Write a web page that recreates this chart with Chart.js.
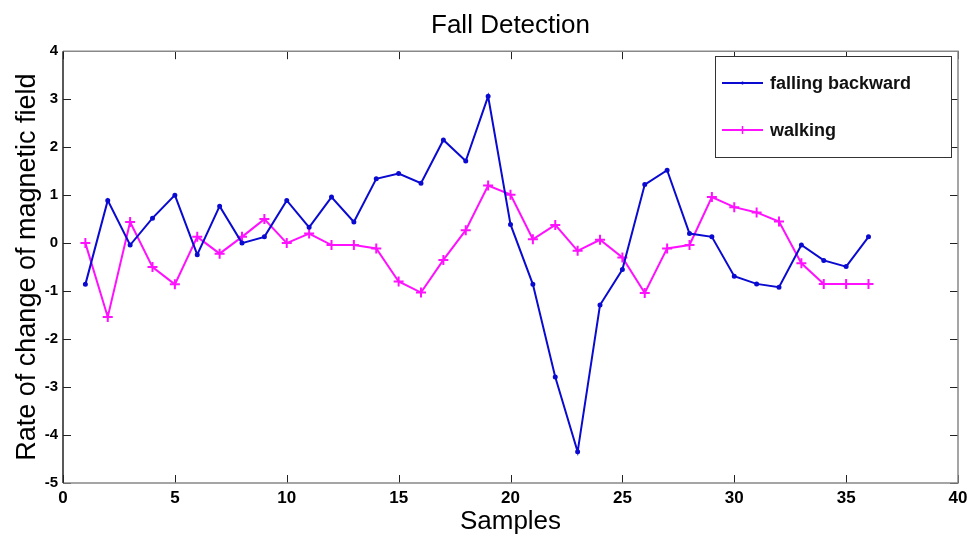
<!DOCTYPE html>
<html>
<head>
<meta charset="utf-8">
<title>Fall Detection</title>
<script src="https://cdn.jsdelivr.net/npm/chart.js@4.4.0/dist/chart.umd.min.js"></script>
<style>
  html, body { margin: 0; padding: 0; background: #fff; }
  #wrap { width: 969px; height: 537px; }
</style>
</head>
<body>
<div id="wrap"><canvas id="fallChart" width="969" height="537"></canvas></div>
<script>
// muestras 1..36
const samples = Array.from({ length: 36 }, (_, i) => i + 1);

const fallingBackward = [
  -0.86, 0.89, -0.04, 0.52, 1.0, -0.24, 0.77, 0.0, 0.13, 0.89,
  0.33, 0.96, 0.44, 1.34, 1.45, 1.25, 2.15, 1.71, 3.06, 0.39,
  -0.86, -2.79, -4.35, -1.29, -0.55, 1.22, 1.52, 0.2, 0.13, -0.69,
  -0.85, -0.92, -0.04, -0.36, -0.49, 0.13
];

const walking = [
  0.0, -1.54, 0.44, -0.5, -0.86, 0.13, -0.22, 0.13, 0.5, 0.0,
  0.2, -0.04, -0.04, -0.11, -0.8, -1.03, -0.35, 0.27, 1.2, 1.01,
  0.08, 0.38, -0.16, 0.07, -0.3, -1.04, -0.11, -0.04, 0.96, 0.75,
  0.64, 0.45, -0.42, -0.85, -0.85, -0.85
];

const xTicks = [0, 5, 10, 15, 20, 25, 30, 35, 40];
const yTicks = [-5, -4, -3, -2, -1, 0, 1, 2, 3, 4];

const BLUE = '#0a0ad0';
const MAGENTA = '#ff10ff';
const FONT = '"Liberation Sans", Arial, sans-serif';

// marco del eje + marcas hacia dentro, estilo MATLAB
const boxTicks = {
  id: 'boxTicks',
  afterDraw(chart) {
    const { ctx, chartArea: a, scales } = chart;
    ctx.save();
    ctx.lineWidth = 1;
    ctx.strokeStyle = '#222';
    xTicks.forEach(v => {
      const px = Math.round(scales.x.getPixelForValue(v)) + 0.5;
      ctx.beginPath();
      ctx.moveTo(px, a.bottom); ctx.lineTo(px, a.bottom - 8);
      ctx.moveTo(px, a.top); ctx.lineTo(px, a.top + 8);
      ctx.stroke();
    });
    yTicks.forEach(v => {
      const py = Math.round(scales.y.getPixelForValue(v)) + 0.5;
      ctx.beginPath();
      ctx.moveTo(a.left, py); ctx.lineTo(a.left + 8, py);
      ctx.moveTo(a.right, py); ctx.lineTo(a.right - 8, py);
      ctx.stroke();
    });
    // bordes
    ctx.strokeStyle = '#888';
    ctx.lineWidth = 1.5;
    ctx.beginPath();
    ctx.moveTo(a.left, a.top); ctx.lineTo(a.right, a.top); ctx.lineTo(a.right, a.bottom);
    ctx.lineTo(a.left, a.bottom);
    ctx.stroke();
    ctx.strokeStyle = '#222';
    ctx.beginPath();
    ctx.moveTo(a.left, a.top); ctx.lineTo(a.left, a.bottom);
    ctx.stroke();
    ctx.restore();
  }
};

// leyenda dentro del área, arriba a la derecha
const boxLegend = {
  id: 'boxLegend',
  afterDraw(chart) {
    const { ctx, chartArea: a } = chart;
    const x0 = 715, y0 = 56, w = a.right - 7 - x0, h = 101;
    ctx.save();
    ctx.fillStyle = '#fff';
    ctx.fillRect(x0, y0, w, h);
    ctx.strokeStyle = '#333';
    ctx.lineWidth = 1;
    ctx.strokeRect(x0 + 0.5, y0 + 0.5, w, h);
    const rows = [83, 130];
    chart.data.datasets.forEach((ds, i) => {
      const y = rows[i];
      ctx.strokeStyle = ds.borderColor;
      ctx.lineWidth = 2;
      ctx.beginPath();
      ctx.moveTo(722, y); ctx.lineTo(763, y);
      ctx.stroke();
      ctx.lineWidth = 1.5;
      ctx.beginPath();
      if (ds.pointStyle === 'cross') {
        ctx.moveTo(742.5, y - 4); ctx.lineTo(742.5, y + 4);
      } else {
        ctx.moveTo(742.5, y - 1.5); ctx.lineTo(742.5, y + 1.5);
      }
      ctx.stroke();
      ctx.fillStyle = '#111';
      ctx.font = 'bold 18px ' + FONT;
      ctx.textBaseline = 'middle';
      ctx.fillText(ds.label, 770, y + 1);
    });
    ctx.restore();
  }
};

new Chart(document.getElementById('fallChart'), {
  type: 'line',
  data: {
    datasets: [
      {
        label: 'falling backward',
        data: samples.map((s, i) => ({ x: s, y: fallingBackward[i] })),
        borderColor: BLUE,
        backgroundColor: BLUE,
        borderWidth: 2,
        pointStyle: 'circle',
        pointRadius: 1.5,
        tension: 0
      },
      {
        label: 'walking',
        data: samples.map((s, i) => ({ x: s, y: walking[i] })),
        borderColor: MAGENTA,
        backgroundColor: MAGENTA,
        borderWidth: 2,
        pointStyle: 'cross',
        pointRadius: 5,
        pointBorderWidth: 2,
        tension: 0
      }
    ]
  },
  options: {
    responsive: false,
    animation: false,
    layout: { padding: { left: 0, right: 11, top: 0, bottom: 0 } },
    plugins: {
      legend: { display: false },
      tooltip: { enabled: false },
      title: {
        display: true,
        fullSize: false,
        text: 'Fall Detection',
        color: '#000',
        font: { family: FONT, size: 26, weight: 'normal' },
        padding: { top: 10, bottom: 10 }
      }
    },
    scales: {
      x: {
        type: 'linear',
        min: 0, max: 40,
        grid: { display: false, drawTicks: false },
        border: { display: false },
        afterBuildTicks: s => { s.ticks = xTicks.map(v => ({ value: v })); },
        afterFit: s => { s.height = 54; s.paddingLeft = 0; s.paddingRight = 0; },
        ticks: {
          color: '#000',
          padding: 5,
          maxRotation: 0,
          font: { family: FONT, size: 17, weight: 'bold' }
        },
        title: {
          display: true,
          text: 'Samples',
          color: '#000',
          padding: { top: 0, bottom: 0 },
          font: { family: FONT, size: 26 }
        }
      },
      y: {
        type: 'linear',
        min: -5, max: 4,
        grid: { display: false, drawTicks: false },
        border: { display: false },
        afterBuildTicks: s => { s.ticks = yTicks.map(v => ({ value: v })); },
        afterFit: s => { s.width = 63; s.paddingTop = 0; s.paddingBottom = 0; },
        ticks: {
          color: '#000',
          padding: 5,
          font: { family: FONT, size: 15, weight: 'bold' }
        },
        title: {
          display: true,
          text: 'Rate of change of magnetic field',
          color: '#000',
          padding: { top: 11, bottom: 0 },
          font: { family: FONT, size: 27 }
        }
      }
    }
  },
  plugins: [boxTicks, boxLegend]
});
</script>
</body>
</html>
